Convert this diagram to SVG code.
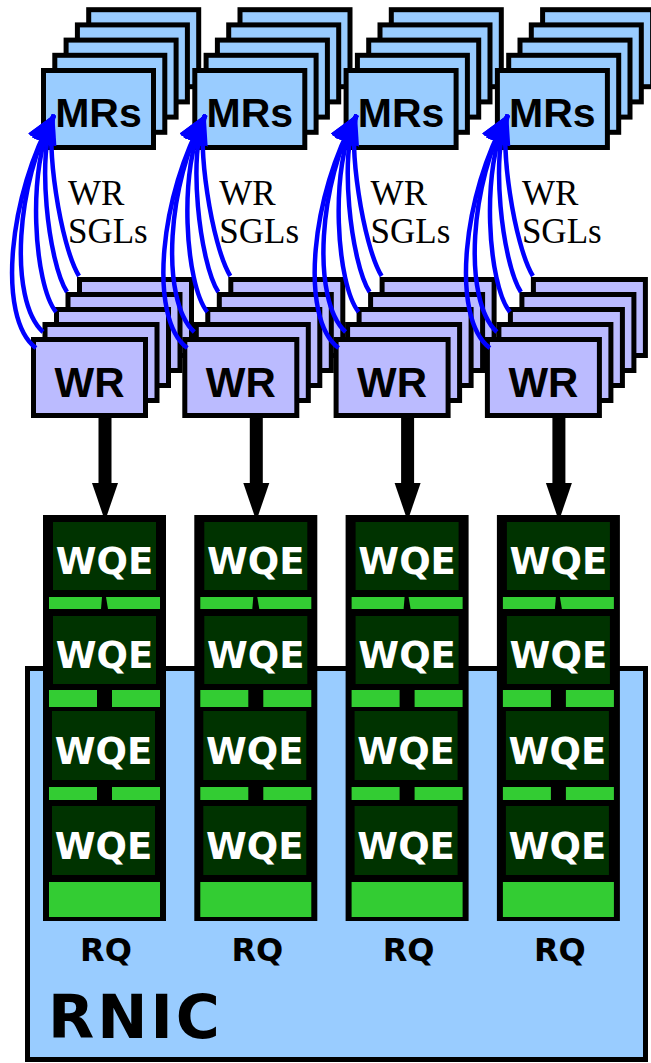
<svg xmlns="http://www.w3.org/2000/svg" xmlns:xlink="http://www.w3.org/1999/xlink" width="651" height="1063" viewBox="0 0 651 1063">
<style>
.mr{fill:#99ccff;stroke:#000;stroke-width:5}
.wr{fill:#bbbbff;stroke:#000;stroke-width:5}
.rnic{fill:#99ccff;stroke:#000;stroke-width:5}
.qbody{fill:#000}
.wqe{fill:#003300}
.bar{fill:#33cc33}
.t-box{font-family:"Liberation Sans",Arial,sans-serif;font-weight:bold;fill:#000;text-anchor:middle}
.t-mr{font-size:41px}
.t-wr{font-size:42px}
.t-wqe{font-family:"DejaVu Sans",Verdana,sans-serif;font-weight:bold;font-size:37px;fill:#fff;text-anchor:middle}
.t-rq{font-family:"DejaVu Sans",Verdana,sans-serif;font-weight:bold;font-size:32px;fill:#000;text-anchor:middle}
.t-rnic{font-family:"DejaVu Sans",Verdana,sans-serif;font-weight:bold;font-size:60px;letter-spacing:3px;fill:#000}
.t-sgl{font-family:"Liberation Serif","Times New Roman",serif;font-size:35px;fill:#000}
.sgl{fill:none;stroke:#0000ff;stroke-width:4.5;marker-end:url(#blueHead)}
.post{fill:none;stroke:#000;stroke-width:13;marker-end:url(#blackHead)}
</style>
<defs>
<marker id="blueHead" markerUnits="userSpaceOnUse" viewBox="0 0 30 26" markerWidth="30" markerHeight="26" refX="29" refY="13" orient="auto">
<path d="M0,0 L30,13 L0,26 z" fill="#0000ff"/>
</marker>
<marker id="blackHead" markerUnits="userSpaceOnUse" viewBox="0 0 38 26" markerWidth="38" markerHeight="26" refX="5" refY="13" orient="auto" overflow="visible">
<path d="M0,0 L38,13 L0,26 z" fill="#000"/>
</marker>
<g id="mrRects">
<rect class="mr" x="88.7" y="9.7" width="110" height="77"/>
<rect class="mr" x="77.4" y="24.9" width="110" height="77"/>
<rect class="mr" x="66.1" y="40.1" width="110" height="77"/>
<rect class="mr" x="54.8" y="55.3" width="110" height="77"/>
<rect class="mr" x="43.5" y="70.5" width="110" height="77"/>
</g>
<g id="wrRects">
<rect class="wr" x="79.5" y="279.5" width="112" height="76"/>
<rect class="wr" x="68" y="294.5" width="112" height="76"/>
<rect class="wr" x="56.5" y="309.5" width="112" height="76"/>
<rect class="wr" x="45" y="324.5" width="112" height="76"/>
<rect class="wr" x="33.5" y="339.5" width="112" height="76"/>
</g>
<g id="queueBody">
<rect class="qbody" x="43" y="515" width="123" height="406"/>
<rect class="wqe" x="53" y="522" width="103" height="68"/>
<rect class="wqe" x="53" y="616" width="103" height="68"/>
<rect class="wqe" x="52" y="711" width="103" height="69"/>
<rect class="wqe" x="52" y="806" width="103" height="69"/>
<polygon class="bar" points="49,597 102,597 101,609 49,609"/>
<polygon class="bar" points="106,597 160,597 160,609 108,609"/>
<rect class="bar" x="49" y="690" width="48" height="17"/>
<rect class="bar" x="112" y="690" width="48" height="17"/>
<rect class="bar" x="49" y="787" width="48" height="13"/>
<rect class="bar" x="112" y="787" width="48" height="13"/>
<rect class="bar" x="49" y="882" width="111" height="35"/>
</g>
<g id="sglCurves">
<path class="sgl" d="M36,348 C-4,318 9,193 54,115"/>
<path class="sgl" d="M43,332 C8,300 16.5,180 54,115"/>
<path class="sgl" d="M56,312 C34,285 26,167 54,115"/>
<path class="sgl" d="M67,292 C48,262 36,152 54,115"/>
<path class="sgl" d="M79,276 C60,245 45,140 54,115"/>
</g>
</defs>

<g id="rnic">
<rect class="rnic" x="27.5" y="668.5" width="618" height="391"/>
<text class="t-rnic" x="48" y="1038">RNIC</text>
</g>

<g id="rq-1" transform="translate(0,0)">
<use xlink:href="#queueBody"/>
<text class="t-wqe" x="104.5" y="574">WQE</text>
<text class="t-wqe" x="104.5" y="668">WQE</text>
<text class="t-wqe" x="103.5" y="764">WQE</text>
<text class="t-wqe" x="103.5" y="859">WQE</text>
<text class="t-rq" x="106" y="961">RQ</text>
</g>
<g id="rq-2" transform="translate(151.3,0)">
<use xlink:href="#queueBody"/>
<text class="t-wqe" x="104.5" y="574">WQE</text>
<text class="t-wqe" x="104.5" y="668">WQE</text>
<text class="t-wqe" x="103.5" y="764">WQE</text>
<text class="t-wqe" x="103.5" y="859">WQE</text>
<text class="t-rq" x="106" y="961">RQ</text>
</g>
<g id="rq-3" transform="translate(302.6,0)">
<use xlink:href="#queueBody"/>
<text class="t-wqe" x="104.5" y="574">WQE</text>
<text class="t-wqe" x="104.5" y="668">WQE</text>
<text class="t-wqe" x="103.5" y="764">WQE</text>
<text class="t-wqe" x="103.5" y="859">WQE</text>
<text class="t-rq" x="106" y="961">RQ</text>
</g>
<g id="rq-4" transform="translate(453.9,0)">
<use xlink:href="#queueBody"/>
<text class="t-wqe" x="104.5" y="574">WQE</text>
<text class="t-wqe" x="104.5" y="668">WQE</text>
<text class="t-wqe" x="103.5" y="764">WQE</text>
<text class="t-wqe" x="103.5" y="859">WQE</text>
<text class="t-rq" x="106" y="961">RQ</text>
</g>

<g id="wr-1" transform="translate(0,0)">
<use xlink:href="#wrRects"/>
<text class="t-box t-wr" x="89.5" y="397">WR</text>
</g>
<g id="wr-2" transform="translate(151.3,0)">
<use xlink:href="#wrRects"/>
<text class="t-box t-wr" x="89.5" y="397">WR</text>
</g>
<g id="wr-3" transform="translate(302.6,0)">
<use xlink:href="#wrRects"/>
<text class="t-box t-wr" x="89.5" y="397">WR</text>
</g>
<g id="wr-4" transform="translate(453.9,0)">
<use xlink:href="#wrRects"/>
<text class="t-box t-wr" x="89.5" y="397">WR</text>
</g>

<g id="mrs-1" transform="translate(0,0)">
<use xlink:href="#mrRects"/>
<text class="t-box t-mr" x="98.5" y="127">MRs</text>
</g>
<g id="mrs-2" transform="translate(151.3,0)">
<use xlink:href="#mrRects"/>
<text class="t-box t-mr" x="98.5" y="127">MRs</text>
</g>
<g id="mrs-3" transform="translate(302.6,0)">
<use xlink:href="#mrRects"/>
<text class="t-box t-mr" x="98.5" y="127">MRs</text>
</g>
<g id="mrs-4" transform="translate(453.9,0)">
<use xlink:href="#mrRects"/>
<text class="t-box t-mr" x="98.5" y="127">MRs</text>
</g>

<g id="connectors">
<g transform="translate(0,0)"><use xlink:href="#sglCurves"/><line class="post" x1="105" y1="414" x2="105" y2="488"/></g>
<g transform="translate(151.3,0)"><use xlink:href="#sglCurves"/><line class="post" x1="105" y1="414" x2="105" y2="488"/></g>
<g transform="translate(302.6,0)"><use xlink:href="#sglCurves"/><line class="post" x1="105" y1="414" x2="105" y2="488"/></g>
<g transform="translate(453.9,0)"><use xlink:href="#sglCurves"/><line class="post" x1="105" y1="414" x2="105" y2="488"/></g>
</g>

<g id="labels">
<g transform="translate(0,0)"><text class="t-sgl" x="68" y="205">WR</text><text class="t-sgl" x="68" y="243">SGLs</text></g>
<g transform="translate(151.3,0)"><text class="t-sgl" x="68" y="205">WR</text><text class="t-sgl" x="68" y="243">SGLs</text></g>
<g transform="translate(302.6,0)"><text class="t-sgl" x="68" y="205">WR</text><text class="t-sgl" x="68" y="243">SGLs</text></g>
<g transform="translate(453.9,0)"><text class="t-sgl" x="68" y="205">WR</text><text class="t-sgl" x="68" y="243">SGLs</text></g>
</g>
</svg>
